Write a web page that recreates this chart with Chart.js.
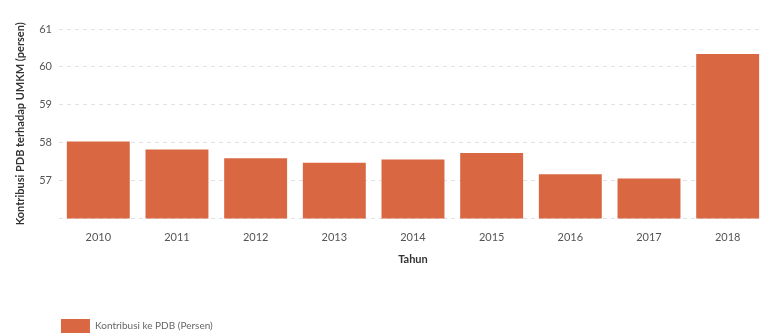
<!DOCTYPE html>
<html>
<head>
<meta charset="utf-8">
<script src="https://cdn.jsdelivr.net/npm/chart.js@4.4.0/dist/chart.umd.min.js"></script>
<style>
  html, body { margin: 0; padding: 0; background: #fff; overflow: hidden; }
  #wrap { width: 767px; height: 336px; }
</style>
</head>
<body>
<div id="wrap"><canvas id="pdbChart"></canvas></div>
<script>
const years = ['2010', '2011', '2012', '2013', '2014', '2015', '2016', '2017', '2018'];
const kontribusi = [58.03, 57.82, 57.59, 57.47, 57.56, 57.73, 57.17, 57.06, 60.34];
const yTicks = [57, 58, 59, 60, 61];

const barColor = '#d96842';

const ctx = document.getElementById('pdbChart').getContext('2d');
const pdbChart = new Chart(ctx, {
    type: 'bar',
    data: {
        labels: years,
        datasets: [{
            label: 'Kontribusi ke PDB (Persen)',
            data: kontribusi,
            backgroundColor: barColor,
            borderWidth: 0,
            barPercentage: 0.8,
            categoryPercentage: 1.0
        }]
    },
    options: {
        responsive: true,
        maintainAspectRatio: false,
        animation: false,
        layout: {
            padding: { top: 29, left: 0, right: 0, bottom: -7 }
        },
        plugins: {
            legend: {
                position: 'bottom',
                align: 'start',
                fullSize: false,
                labels: {
                    boxWidth: 29,
                    boxHeight: 14,
                    padding: 2,
                    color: '#666',
                    font: { family: 'Lato', size: 10 }
                }
            },
            tooltip: { enabled: false }
        },
        scales: {
            x: {
                grid: { display: false },
                border: { display: false },
                ticks: {
                    color: '#555',
                    padding: 4,
                    font: { family: 'Lato', size: 11 }
                },
                title: {
                    display: true,
                    text: 'Tahun',
                    color: '#333',
                    font: { family: 'Lato', size: 11, weight: 'bold' },
                    padding: { top: 5, bottom: 51 }
                }
            },
            y: {
                min: 56,
                max: 61,
                border: { display: false, dash: [4, 4] },
                grid: {
                    color: '#dfe1e8',
                    drawTicks: false
                },
                ticks: {
                    stepSize: 1,
                    color: '#555',
                    padding: 7,
                    font: { family: 'Lato', size: 11 },
                    callback: function(value) {
                        return yTicks.includes(value) ? value : '';
                    }
                },
                title: {
                    display: true,
                    text: 'Kontribusi PDB terhadap UMKM (persen)',
                    color: '#333',
                    font: { family: 'Lato', size: 11, weight: 'bold' },
                    padding: { top: 14, bottom: 5 }
                }
            }
        }
    }
});
</script>
</body>
</html>
